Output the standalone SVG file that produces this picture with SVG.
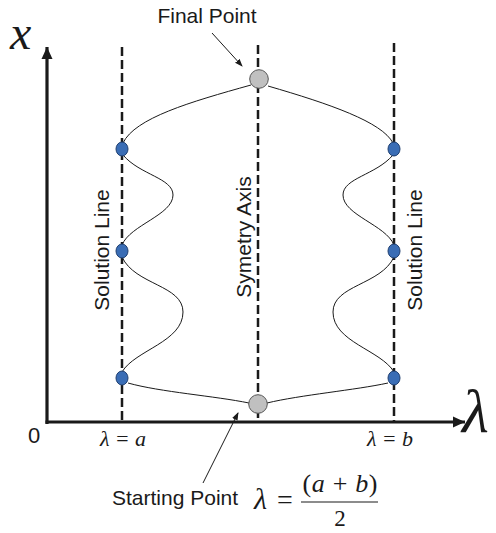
<svg xmlns="http://www.w3.org/2000/svg" width="496" height="533" viewBox="0 0 496 533">
<defs>
<style>
.dash{stroke:#1a1a1a;stroke-width:2.5;stroke-dasharray:9,4;fill:none}
.axis{stroke:#1a1a1a;stroke-width:3.2;fill:none}
.curve{stroke:#1a1a1a;stroke-width:1;fill:none}
.blue{fill:#3a6db5;stroke:#1f3f70;stroke-width:1}
.gray{fill:#c0c0c0;stroke:#555;stroke-width:1}
.sans{font-family:"Liberation Sans",Arial,sans-serif;fill:#1a1a1a;font-size:21px}
.math{font-family:"Liberation Serif","Times New Roman",serif;font-style:italic;fill:#1a1a1a}
.rm{font-family:"Liberation Serif","Times New Roman",serif;fill:#1a1a1a}
.ptr{stroke:#1a1a1a;stroke-width:1;fill:none}
</style>
<marker id="ah" markerWidth="13" markerHeight="12" refX="12" refY="6" orient="auto" markerUnits="userSpaceOnUse">
<path d="M0,0.5 L12,6 L0,11.5 Z" fill="#1a1a1a"/>
</marker>
<marker id="sm" markerWidth="8" markerHeight="8" refX="7" refY="4" orient="auto" markerUnits="userSpaceOnUse">
<path d="M0,1 L8,4 L0,7 Z" fill="#1a1a1a"/>
</marker>
</defs>
<g id="connectors">
<line class="axis" x1="47" y1="424" x2="47" y2="47" marker-end="url(#ah)"/>
<line class="axis" x1="45.5" y1="422" x2="465" y2="422" marker-end="url(#ah)"/>
<line class="dash" x1="122" y1="47" x2="122" y2="422"/>
<line class="dash" x1="258" y1="45" x2="258" y2="422"/>
<line class="dash" x1="394" y1="43" x2="394" y2="422"/>
<path class="curve" d="M251,85 C190,102 135,118 123,143"/>
<path class="curve" d="M268,86 C330,104 382,122 393,143"/>
<path class="curve" d="M123,155 C140,175 173,178 173,195 C173,215 130,225 122,245"/>
<path class="curve" d="M393,155 C376,175 343,178 343,195 C343,215 386,225 394,245"/>
<path class="curve" d="M122,257 C135,285 183,285 183,312 C183,342 135,350 122,372"/>
<path class="curve" d="M394,257 C381,285 333,285 333,312 C333,342 381,350 394,372"/>
<path class="curve" d="M128,383 C160,392 215,396 249,403"/>
<path class="curve" d="M388,383 C356,390 300,395 267,403"/>
<line class="ptr" x1="212" y1="33" x2="242" y2="66" marker-end="url(#sm)"/>
<line class="ptr" x1="203" y1="483" x2="238" y2="413" marker-end="url(#sm)"/>
</g>
<g id="final-point"><circle class="gray" cx="259" cy="79" r="9.3"/></g>
<g id="start-point"><circle class="gray" cx="258" cy="404" r="9.3"/></g>
<g id="left-dots">
<ellipse class="blue" cx="122" cy="149" rx="6" ry="7"/>
<ellipse class="blue" cx="122" cy="251" rx="6" ry="7"/>
<ellipse class="blue" cx="122" cy="378" rx="6" ry="7"/>
</g>
<g id="right-dots">
<ellipse class="blue" cx="394" cy="149" rx="6" ry="7"/>
<ellipse class="blue" cx="394" cy="251" rx="6" ry="7"/>
<ellipse class="blue" cx="394" cy="378" rx="6" ry="7"/>
</g>
<g id="labels">
<text class="sans" x="207" y="22.5" text-anchor="middle">Final Point</text>
<text class="math" x="10" y="49" font-size="48">x</text>
<text class="math" x="462" y="432" font-size="62">λ</text>
<text class="sans" x="28" y="443" style="font-size:22px">0</text>
<text class="math" x="100" y="446" font-size="22" textLength="46" lengthAdjust="spacing">λ=a</text>
<text class="math" x="367" y="446" font-size="22" textLength="46" lengthAdjust="spacing">λ = b</text>
<text class="sans" text-anchor="middle" transform="translate(109,250) rotate(-90)">Solution Line</text>
<text class="sans" text-anchor="middle" transform="translate(422,250) rotate(-90)">Solution Line</text>
<text class="sans" text-anchor="middle" transform="translate(251,237) rotate(-90)">Symetry Axis</text>
<text class="sans" x="112" y="505">Starting Point</text>
<text class="math" x="254" y="509" font-size="30">λ</text>
<text class="rm" x="277" y="509" font-size="28">=</text>
<text class="rm" x="340" y="492" font-size="26" text-anchor="middle" textLength="75" lengthAdjust="spacing">(<tspan font-style="italic">a</tspan> + <tspan font-style="italic">b</tspan>)</text>
<line x1="301" y1="502" x2="378" y2="502" stroke="#1a1a1a" stroke-width="1.2"/>
<text class="rm" x="340" y="526" font-size="23" text-anchor="middle">2</text>
</g>
</svg>
